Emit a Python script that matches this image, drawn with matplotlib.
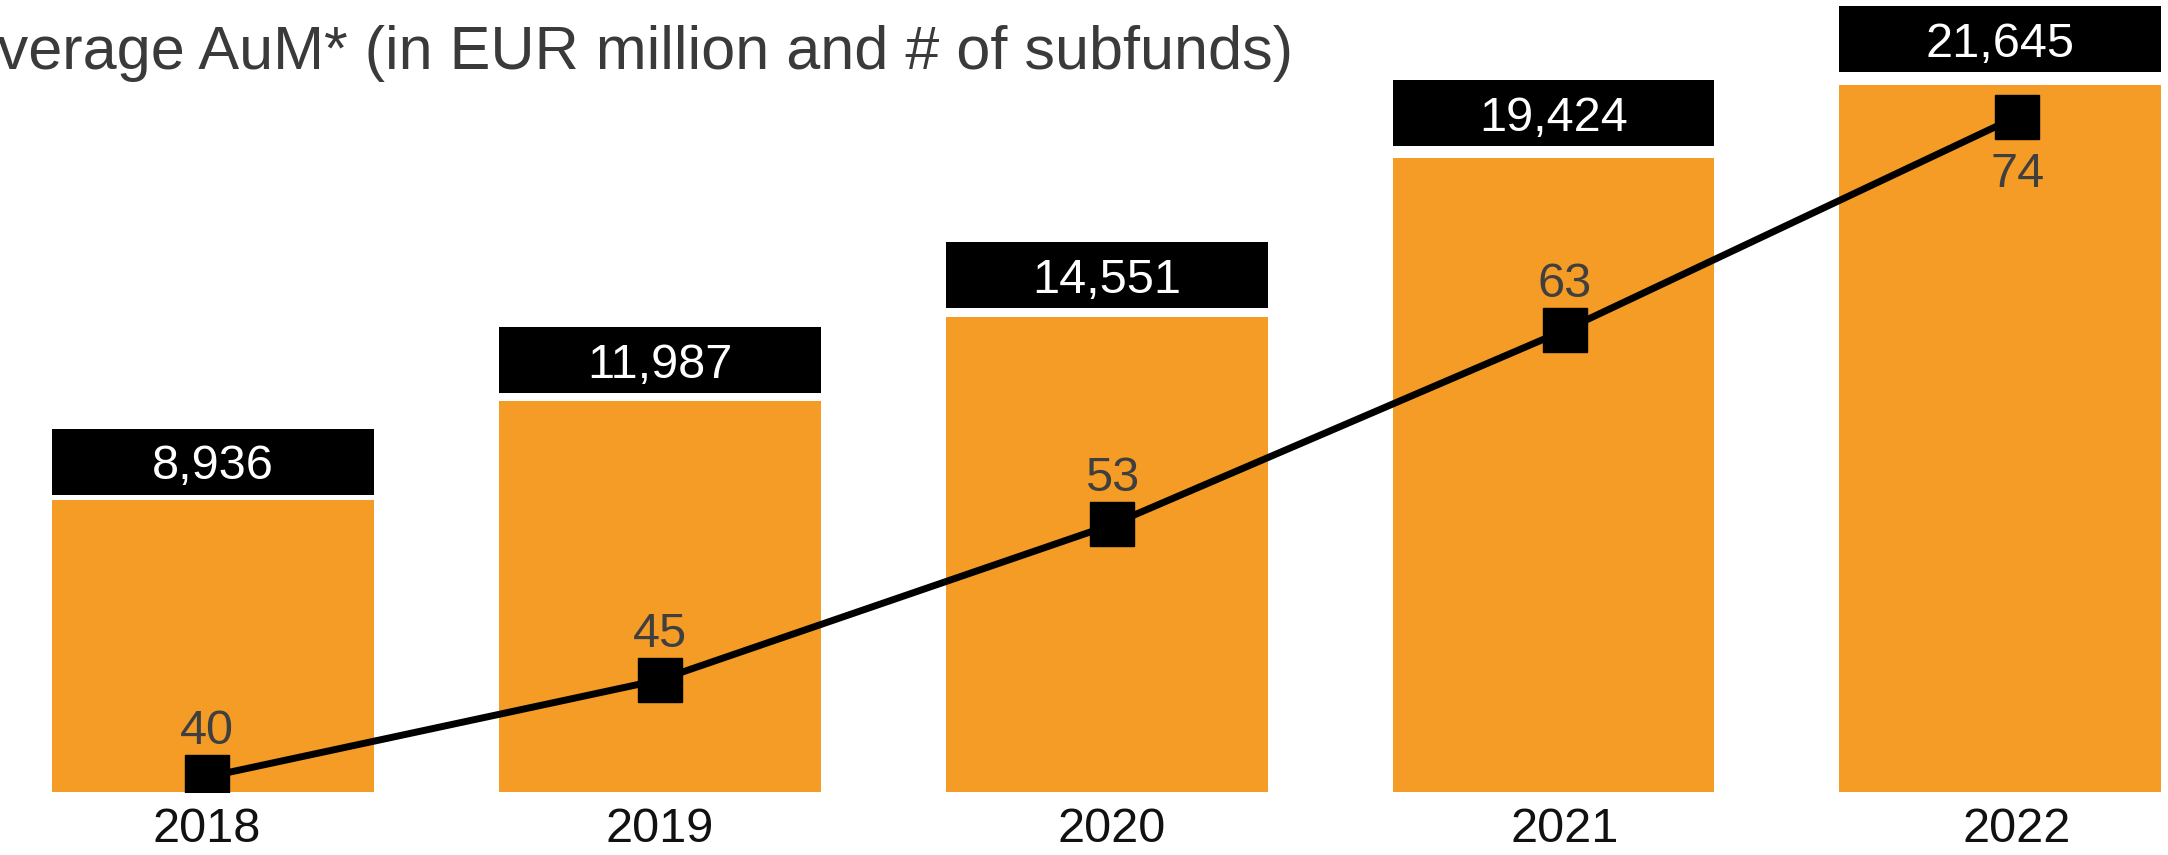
import matplotlib
matplotlib.use("Agg")
import matplotlib.pyplot as plt

# Data
years = ["2018", "2019", "2020", "2021", "2022"]
aum = [8936, 11987, 14551, 19424, 21645]
subfunds = [40, 45, 53, 63, 74]

ORANGE = "#F49C25"
LABEL_GREY = "#3f3f3f"

plt.rcParams["font.family"] = ["Liberation Sans", "DejaVu Sans"]

fig = plt.figure(figsize=(21.68, 8.55), dpi=100)
pos = [0.0242, 0.0737, 0.9726, 0.9263]

# Bars (AuM)
ax = fig.add_axes(pos)
x = range(len(years))
ax.bar(x, aum, width=0.72, color=ORANGE, zorder=1)

# Black value boxes on top of the bars
box_h = 2020
ax.bar(x, [box_h] * len(aum), bottom=[v * 1.018 for v in aum],
       width=0.72, color="black", zorder=2)
for i, v in enumerate(aum):
    ax.text(i, v * 1.018 + box_h / 2, f"{v:,}", color="white",
            fontsize=35, ha="center", va="center_baseline", zorder=3)

ax.set_xlim(-0.36, 4.36)
ax.set_ylim(0, 24250)
ax.axis("off")

# Line (number of subfunds) on its own axes
ax2 = fig.add_axes(pos, frameon=False)
ax2.plot(range(len(years)), subfunds, color="black", linewidth=5,
         marker="s", markersize=31, zorder=4)
for i, v in enumerate(subfunds):
    dy = -42 if i == len(subfunds) - 1 else 33
    ax2.annotate(str(v), (i, v), xytext=(0, dy), textcoords="offset points",
                 ha="center", va="center", fontsize=35, color=LABEL_GREY)

ax2.set_xlim(-0.3414, 4.318)
ax2.set_ylim(39.23, 80.0)
ax2.set_xticks(range(len(years)))
ax2.set_xticklabels(years, fontsize=35, color="#111111")
ax2.tick_params(axis="x", length=0, pad=11)
ax2.set_yticks([])

# Title (left edge cut off, as in the source)
fig.text(1293 / 2168, 1 - 69 / 855, "Average AuM* (in EUR million and # of subfunds)",
         ha="right", va="baseline", fontsize=44, color="#3a3a3a")

fig.savefig("out.png", dpi=100)
